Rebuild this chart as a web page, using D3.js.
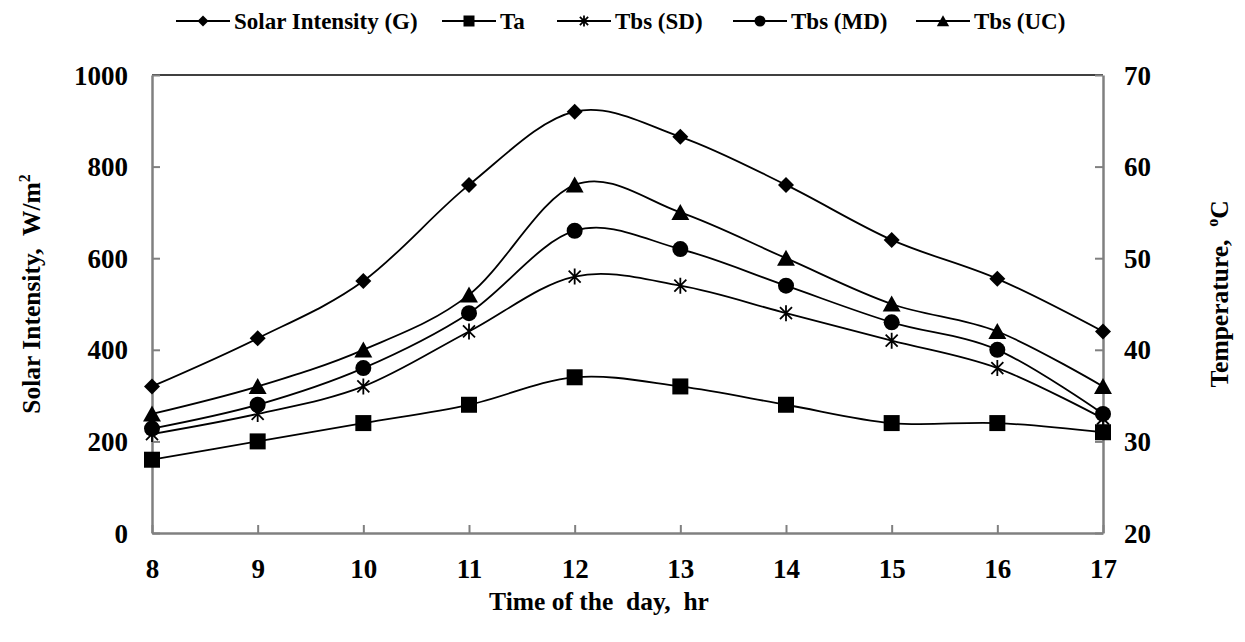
<!DOCTYPE html>
<html>
<head>
<meta charset="utf-8">
<script src="https://cdn.jsdelivr.net/npm/d3@7/dist/d3.min.js"></script>
<style>
  html, body { margin: 0; padding: 0; background: #fff; }
  svg { display: block; }
  text { font-family: "Liberation Serif", "Times New Roman", serif; font-weight: bold; fill: #000; white-space: pre; }
</style>
</head>
<body>
<svg id="chart" width="1245" height="642"></svg>
<script>
// ---- data ----
const hours = [8, 9, 10, 11, 12, 13, 14, 15, 16, 17];
const solarG = [320, 425, 550, 760, 920, 865, 760, 640, 555, 440];
const ta = [28, 30, 32, 34, 37, 36, 34, 32, 32, 31];
const tbsSD = [30.8, 33, 36, 42, 48, 47, 44, 41, 38, 32.5];
const tbsMD = [31.4, 34, 38, 44, 53, 51, 47, 43, 40, 33];
const tbsUC = [33, 36, 40, 46, 58, 55, 50, 45, 42, 36];
const leftTicks = [0, 200, 400, 600, 800, 1000];
const rightTicks = [20, 30, 40, 50, 60, 70];
const seriesNames = ["Solar Intensity (G)", "Ta", "Tbs (SD)", "Tbs (MD)", "Tbs (UC)"];

// ---- layout ----
const svg = d3.select("#chart");
const L = 152, R = 1103, T = 75, B = 533;
const x = d3.scaleLinear().domain([8, 17]).range([L, R]);
const yL = d3.scaleLinear().domain([0, 1000]).range([B, T]);
const yR = d3.scaleLinear().domain([20, 70]).range([B, T]);
const grey = "#808080";

// top border line (black)
svg.append("line").attr("x1", L).attr("x2", R).attr("y1", T).attr("y2", T)
  .attr("stroke", "#000").attr("stroke-width", 1.5);

// axes
const axL = d3.axisLeft(yL).tickValues(leftTicks).tickSizeInner(-8).tickSizeOuter(0).tickFormat(d3.format("d"));
const axR = d3.axisRight(yR).tickValues(rightTicks).tickSizeInner(-8).tickSizeOuter(0).tickFormat(d3.format("d"));
const axB = d3.axisBottom(x).tickValues(hours).tickSizeInner(-8).tickSizeOuter(0).tickFormat(d3.format("d"));

function styleAxis(g) {
  g.select(".domain").attr("stroke", grey).attr("stroke-width", 2.5);
  g.selectAll(".tick line").attr("stroke", grey).attr("stroke-width", 2);
  g.selectAll(".tick text").attr("font-size", 27).attr("font-family", null).attr("fill", "#000");
}
const gL = svg.append("g").attr("transform", `translate(${L},0)`).call(axL).call(styleAxis);
gL.selectAll(".tick text").attr("x", -24).attr("dy", null).attr("y", 9);
const gR = svg.append("g").attr("transform", `translate(${R},0)`).call(axR).call(styleAxis);
gR.selectAll(".tick text").attr("x", 21).attr("dy", null).attr("y", 9);
const gB = svg.append("g").attr("transform", `translate(0,${B})`).call(axB).call(styleAxis);
gB.selectAll(".tick text").attr("y", 45).attr("dy", null);
svg.selectAll(".tick text").attr("fill", "#000");

// ---- lines ----
const curve = d3.curveCardinal.tension(0);
const series = [
  { name: seriesNames[0], vals: solarG, y: yL, marker: "diamond" },
  { name: seriesNames[1], vals: ta, y: yR, marker: "square" },
  { name: seriesNames[2], vals: tbsSD, y: yR, marker: "star" },
  { name: seriesNames[3], vals: tbsMD, y: yR, marker: "circle" },
  { name: seriesNames[4], vals: tbsUC, y: yR, marker: "triangle" }
];

function drawMarker(g, type, cx, cy, s) {
  if (type === "diamond") {
    g.append("path").attr("d", `M${cx},${cy - s}L${cx + s},${cy}L${cx},${cy + s}L${cx - s},${cy}Z`).attr("fill", "#000");
  } else if (type === "square") {
    g.append("rect").attr("x", cx - s).attr("y", cy - s).attr("width", 2 * s).attr("height", 2 * s).attr("fill", "#000");
  } else if (type === "circle") {
    g.append("circle").attr("cx", cx).attr("cy", cy).attr("r", s).attr("fill", "#000");
  } else if (type === "triangle") {
    g.append("path").attr("d", `M${cx},${cy - s * 1.05}L${cx + s * 1.12},${cy + s * 0.95}L${cx - s * 1.12},${cy + s * 0.95}Z`).attr("fill", "#000");
  } else if (type === "star") {
    const d = s * 0.75;
    g.append("path").attr("d", `M${cx},${cy - s}L${cx},${cy + s}M${cx - d},${cy - d}L${cx + d},${cy + d}M${cx + d},${cy - d}L${cx - d},${cy + d}`)
      .attr("stroke", "#000").attr("stroke-width", 1.8).attr("fill", "none");
  }
}

series.forEach(s => {
  const line = d3.line().x((d, i) => x(hours[i])).y(d => s.y(d)).curve(curve);
  svg.append("path").datum(s.vals).attr("d", line).attr("fill", "none")
    .attr("stroke", "#000").attr("stroke-width", 1.8);
});
series.forEach(s => {
  const g = svg.append("g");
  s.vals.forEach((v, i) => drawMarker(g, s.marker, x(hours[i]), s.y(v), 8));
});

// ---- legend ----
const legendPos = [203, 469, 584, 760, 943];
const legY = 21;
series.forEach((s, i) => {
  const cx = legendPos[i];
  const g = svg.append("g");
  g.append("line").attr("x1", cx - 27).attr("x2", cx + 27).attr("y1", legY).attr("y2", legY)
    .attr("stroke", "#000").attr("stroke-width", 1.8);
  drawMarker(g, s.marker, cx, legY, 5.5);
  g.append("text").attr("x", cx + 31).attr("y", legY + 7.5).attr("font-size", 23).text(s.name);
});

// ---- axis titles ----
svg.append("text").attr("x", 599).attr("y", 610).attr("text-anchor", "middle")
  .attr("font-size", 25.5).text("Time of the  day,  hr");

const tl = svg.append("text").attr("transform", "translate(40,294) rotate(-90)")
  .attr("text-anchor", "middle").attr("font-size", 25.5);
tl.append("tspan").text("Solar Intensity,  W/m");
tl.append("tspan").attr("font-size", 16).attr("dy", -10).text("2");

const tr = svg.append("text").attr("transform", "translate(1228,294) rotate(-90)")
  .attr("text-anchor", "middle").attr("font-size", 25.5);
tr.append("tspan").text("Temperature,  ");
tr.append("tspan").attr("font-size", 16).attr("dy", -10).text("o");
tr.append("tspan").attr("dy", 10).text("C");
</script>
</body>
</html>
